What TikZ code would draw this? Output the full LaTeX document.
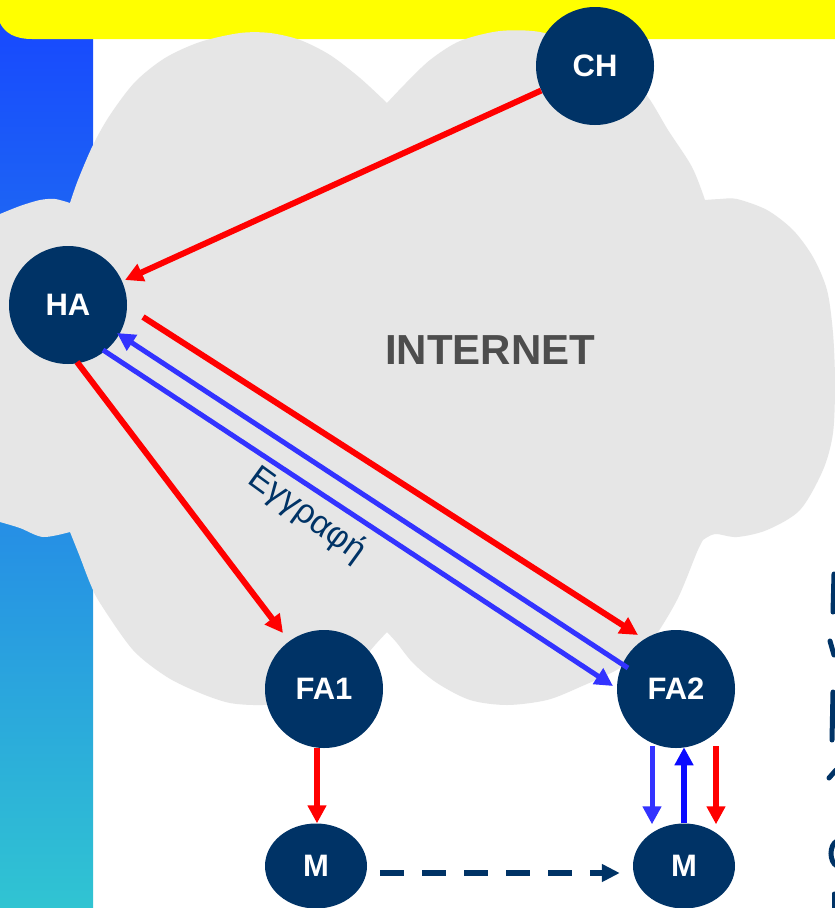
\documentclass[tikz,border=0pt]{standalone}
\usepackage{fontspec}
\setmainfont{Liberation Sans}
\usetikzlibrary{arrows.meta,shapes.geometric}
\definecolor{navy}{RGB}{0,51,102}
\definecolor{blueone}{RGB}{51,51,255}
\definecolor{bluetwo}{RGB}{10,10,255}
\definecolor{cloudgray}{RGB}{230,230,230}
\definecolor{inetgray}{RGB}{77,77,77}
\definecolor{stripTop}{RGB}{23,70,255}
\definecolor{stripBot}{RGB}{48,196,210}
\definecolor{barYellow}{RGB}{255,255,0}
\begin{document}
\begin{tikzpicture}[x=1pt,y=-1pt,
  agent/.style={circle,fill=navy,text=white,minimum size=118pt,inner sep=0pt,
    font=\fontsize{31}{31}\selectfont\bfseries},
  mobile/.style={ellipse,fill=navy,text=white,minimum width=102pt,minimum height=85pt,inner sep=0pt,
    font=\fontsize{31}{31}\selectfont\bfseries},
  redarrow/.style={draw=red,line width=6pt,-{Triangle[length=18pt,width=18pt]}},
  bluearrow/.style={draw=blueone,line width=5pt,-{Triangle[length=18pt,width=18pt]}},
  blueup/.style={draw=bluetwo,line width=6pt,-{Triangle[length=18pt,width=18pt]}},
  movearrow/.style={draw=navy,line width=6pt,dash pattern=on 24pt off 18pt,-{Triangle[length=18pt,width=17pt]}},
  glyphmark/.style={draw=navy,line width=5pt,line cap=round}
]
\useasboundingbox (0,0) rectangle (835,908);
\fill[white] (0,0) rectangle (835,908);
% left gradient strip
\shade[top color=stripTop,bottom color=stripBot] (0,0) rectangle (93,908);
% yellow title bar
\fill[barYellow] (0,0) -- (835,0) -- (835,39) -- (32,39) .. controls (15,39) and (5,33) .. (0,23) -- cycle;
% cloud
\fill[cloudgray] (-5,214)
 -- plot[smooth] coordinates {(0,214) (20,206) (40,200) (55,199) (70,203)}
 -- plot[smooth] coordinates {(70,203) (78,180) (93,145) (110,115) (135,82) (165,58) (200,42) (240,33) (270,33) (300,40) (330,55) (360,78) (387,103)}
 -- plot[smooth] coordinates {(387,103) (405,84) (430,60) (460,41) (500,31) (540,32) (580,45) (620,65) (648,97) (668,130) (692,167) (705,200)}
 -- plot[smooth] coordinates {(705,200) (720,199) (737,199) (767,210) (793,230) (813,257) (827,290) (833,333) (835,383) (833,433) (823,470) (800,510) (767,530) (737,537) (715,534) (703,540)}
 -- plot[smooth] coordinates {(703,540) (697,552) (677,600) (650,643) (620,668) (580,687) (547,700) (507,705) (470,700) (437,683) (413,663) (397,643) (387,632)}
 -- plot[smooth] coordinates {(387,632) (375,645) (355,668) (330,688) (300,701) (263,705) (230,703) (200,693) (167,677) (133,650) (100,603) (90,583) (80,557) (70,532)}
 -- plot[smooth] coordinates {(70,532) (43,537) (20,528) (0,522)}
 -- (-5,522) -- cycle;
\node[text=inetgray,font=\fontsize{42}{42}\selectfont\bfseries] (inet) at (490,350) {INTERNET};
% nodes
\node[agent] (CH) at (595,66) {CH};
\node[agent] (HA) at (68,305) {HA};
\node[agent] (FA1) at (324,689) {FA1};
\node[agent] (FA2) at (676,689) {FA2};
\node[mobile] (M1) at (316,866) {M};
\node[mobile] (M2) at (684,866) {M};
% connectors
\draw[redarrow] (CH) -- ([shift={(57,-25)}]HA.center);
\draw[redarrow] ([shift={(75,12)}]HA.center) -- ([shift={(-38,-54)}]FA2.center);
\draw[bluearrow] ([shift={(-48,-21)}]FA2.center) -- ([shift={(49,28)}]HA.center);
\draw[bluearrow] ([shift={(35,45)}]HA.center) -- ([shift={(-63,-3)}]FA2.center);
\draw[redarrow] ([shift={(9,57)}]HA.center) -- ([shift={(-41,-56)}]FA1.center);
\draw[redarrow] ([shift={(1,-75)}]M1.north) -- ([shift={(1,0)}]M1.north);
\draw[bluearrow] ([shift={(-32,-77)}]M2.north) -- ([shift={(-32,1)}]M2.north);
\draw[blueup] (M2.north) -- ([shift={(0,-76)}]M2.north);
\draw[redarrow] ([shift={(32,-77)}]M2.north) -- ([shift={(32,1)}]M2.north);
\draw[movearrow] ([shift={(13,7)}]M1.east) -- ([shift={(-13,7)}]M2.west);
% label
\node[rotate=-36,text=navy,font=\fontsize{34}{34}\selectfont] (reg) at (307,515) {Εγγραφή};
% partially visible glyphs at the right edge
\begin{scope}
\clip (0,0) rectangle (835,908);
\draw[glyphmark] (834,574) -- (833,612);
\draw[glyphmark] (830,641) -- (834,655);
\draw[glyphmark] (833,692) -- (832,740);
\draw[glyphmark] (829,778) -- (836,770);
\draw[glyphmark] (837,841) .. controls (829,845) and (829,862) .. (837,866);
\draw[glyphmark] (834,894) -- (834,912);
\end{scope}
\end{tikzpicture}
\end{document}
